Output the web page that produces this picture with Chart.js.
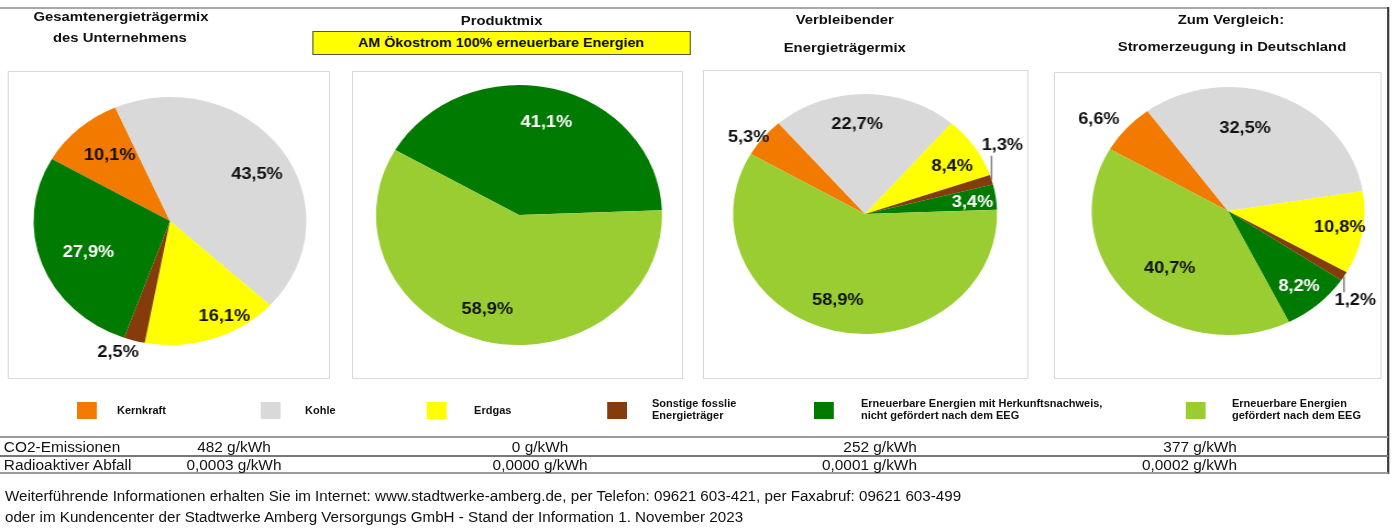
<!DOCTYPE html>
<html>
<head>
<meta charset="utf-8">
<script src="https://cdn.jsdelivr.net/npm/chart.js@4"></script>
<style>
  body { margin: 0; background: #fff; }
  #page {
    position: absolute; left: 0; top: 0; width: 1273px; height: 532px;
    transform: scaleX(1.1); transform-origin: 0 0;
    font-family: "Liberation Sans", Arial, sans-serif; color: #111;
  }
  .abs { position: absolute; }
  .title { position: absolute; font-weight: bold; font-size: 13.5px; text-align: center; width: 300px; white-space: nowrap; }
  .box { position: absolute; border: 1px solid #d9d9d9; box-sizing: border-box; }
  .sw { position: absolute; width: 18px; height: 17px; }
  .lg { position: absolute; font-weight: bold; font-size: 10px; line-height: 12px; white-space: pre; }
  .cell { position: absolute; font-size: 14px; white-space: nowrap; line-height: 16px; }
  .hline { position: absolute; left: 0; width: 1262px; height: 2px; background: #9a9a9a; }
  .foot { position: absolute; left: 4.5px; font-size: 13.8px; white-space: nowrap; }
</style>
</head>
<body>
<div id="page">
  <div class="hline" style="top:7px;background:#a8a8a8"></div>
  <div class="abs" style="left:1261px;top:7px;width:2px;height:467px;background:#3a3a3a"></div>

  <div class="title" style="left:-40px;top:9px">Gesamtenergieträgermix</div>
  <div class="title" style="left:-41px;top:30px">des Unternehmens</div>
  <div class="title" style="left:306px;top:13px">Produktmix</div>
  <div class="abs" style="left:283.5px;top:31px;width:344px;height:24px;background:#ffff00;border:1px solid #555;box-sizing:border-box;font-weight:bold;font-size:13px;text-align:center;line-height:22px">AM Ökostrom 100% erneuerbare Energien</div>
  <div class="title" style="left:618px;top:12px">Verbleibender</div>
  <div class="title" style="left:618px;top:40px">Energieträgermix</div>
  <div class="title" style="left:969px;top:12px">Zum Vergleich:</div>
  <div class="title" style="left:970px;top:39px">Stromerzeugung in Deutschland</div>

  <div id="charts"></div>
  <div id="legend"></div>

  <div class="hline" style="top:436px"></div>
  <div class="hline" style="top:455px;height:1.5px;background:#777"></div>
  <div class="hline" style="top:472px"></div>
  <div id="table"></div>

  <div class="foot" style="top:489px">Weiterführende Informationen erhalten Sie im Internet: www.stadtwerke-amberg.de, per Telefon: 09621 603-421, per Faxabruf: 09621 603-499</div>
  <div class="foot" style="top:510px">oder im Kundencenter der Stadtwerke Amberg Versorgungs GmbH - Stand der Information 1. November 2023</div>
</div>

<script>
// categories and colours (same order in every pie)
const categories = ['Kernkraft', 'Kohle', 'Erdgas', 'Sonstige fosslie\nEnergieträger',
  'Erneuerbare Energien mit Herkunftsnachweis,\nnicht gefördert nach dem EEG',
  'Erneuerbare Energien\ngefördert nach dem EEG'];
const colors = ['#F27A00', '#D9D9D9', '#FFFF00', '#843C0C', '#007A00', '#9ACD32'];

// shares in percent
const mixUnternehmen = [10.1, 43.5, 16.1, 2.5, 27.9, 0];
const mixProdukt = [0, 0, 0, 0, 41.1, 58.9];
const mixVerbleibend = [5.3, 22.7, 8.4, 1.3, 3.4, 58.9];
const mixDeutschland = [6.6, 32.5, 10.8, 1.2, 8.2, 40.7];

// table below the legend
const rowNames = ['CO2-Emissionen', 'Radioaktiver Abfall'];
const co2Values = ['482 g/kWh', '0 g/kWh', '252 g/kWh', '377 g/kWh'];
const wasteValues = ['0,0003 g/kWh', '0,0000 g/kWh', '0,0001 g/kWh', '0,0002 g/kWh'];

// layout: box, pie centre/radius, label placement (f = radius factor, da = angle shift)
const pies = [
  { data: mixUnternehmen, box: [7, 71, 293, 308], cx: 154.5, cy: 221, r: 124,
    place: [{f: .69, da: 2}, {f: .74, da: 5}, {f: .87, da: -9}, {f: 1.13, da: 4.5}, {f: .65, da: -3}, null] },
  { data: mixProdukt, box: [320, 71, 301, 308], cx: 471.8, cy: 215, r: 130,
    place: [null, null, null, null, {f: .74, da: 1}, {f: .76, da: 3}] },
  { data: mixVerbleibend, box: [639, 70, 296, 309], cx: 786.4, cy: 214, r: 120,
    place: [{f: 1.09, da: -3.5}, {f: .75, da: -4.5}, {f: .77, da: 3}, {f: 1.185, da: -12, lead: -24}, {f: .82, da: 1.5}, {f: .75, da: 2}] },
  { data: mixDeutschland, box: [958, 72, 298, 307], cx: 1116.4, cy: 211, r: 124,
    place: [{f: 1.2, da: -4}, {f: .68, da: -11.7}, {f: .83, da: -1}, {f: 1.18, da: 6, lead: 16}, {f: .8, da: .7}, {f: .63, da: -4}] }
];

function labelPlugin(place) {
  return {
    id: 'pieLabels',
    afterDatasetsDraw(chart) {
      const ctx = chart.ctx;
      const values = chart.data.datasets[0].data;
      ctx.save();
      ctx.font = 'bold 16.5px "Liberation Sans", Arial, sans-serif';
      ctx.textAlign = 'center';
      ctx.textBaseline = 'middle';
      chart.getDatasetMeta(0).data.forEach((arc, i) => {
        const p = place[i];
        if (!p || !values[i]) return;
        const mid = (arc.startAngle + arc.endAngle) / 2;
        const a = mid + p.da * Math.PI / 180;
        const R = arc.outerRadius;
        if (p.lead) {
          const ex = arc.x + Math.cos(mid) * R, ey = arc.y + Math.sin(mid) * R;
          ctx.strokeStyle = '#808080';
          ctx.lineWidth = 1.5;
          ctx.beginPath();
          ctx.moveTo(ex, ey);
          ctx.lineTo(ex, ey + p.lead);
          ctx.stroke();
        }
        ctx.fillStyle = i === 4 ? '#ffffff' : '#111111';
        ctx.fillText(values[i].toFixed(1).replace('.', ',') + '%',
          arc.x + Math.cos(a) * R * p.f, arc.y + Math.sin(a) * R * p.f);
      });
      ctx.restore();
    }
  };
}

const chartsDiv = document.getElementById('charts');
pies.forEach(p => {
  const [bx, by, bw, bh] = p.box;
  const box = document.createElement('div');
  box.className = 'box';
  box.style.cssText = `left:${bx}px;top:${by}px;width:${bw}px;height:${bh}px`;
  chartsDiv.appendChild(box);
  const cv = document.createElement('canvas');
  cv.width = bw; cv.height = bh;
  cv.style.cssText = `position:absolute;left:${bx}px;top:${by}px`;
  chartsDiv.appendChild(cv);
  const lx = p.cx - bx, ly = p.cy - by;
  new Chart(cv, {
    type: 'pie',
    data: {
      labels: categories,
      datasets: [{ data: p.data, backgroundColor: colors, borderWidth: 0, hoverOffset: 0 }]
    },
    options: {
      responsive: false,
      animation: false,
      events: [],
      rotation: -60,
      layout: { padding: { left: lx - p.r, top: ly - p.r, right: bw - lx - p.r, bottom: bh - ly - p.r } },
      plugins: { legend: { display: false }, tooltip: { enabled: false } }
    },
    plugins: [labelPlugin(p.place)]
  });
});

// legend
const legendX = [[70, 106.4], [237.3, 277.3], [388.2, 431], [551.8, 592.7], [740, 782.7], [1078, 1120]];
const legendDiv = document.getElementById('legend');
categories.forEach((c, i) => {
  const sw = document.createElement('div');
  sw.className = 'sw';
  sw.style.cssText = `left:${legendX[i][0]}px;top:402px;background:${colors[i]}`;
  legendDiv.appendChild(sw);
  const t = document.createElement('div');
  t.className = 'lg';
  t.textContent = c;
  const lines = c.split('\n').length;
  t.style.cssText = `left:${legendX[i][1]}px;top:${lines > 1 ? 398 : 405}px`;
  legendDiv.appendChild(t);
});

// table
const tableDiv = document.getElementById('table');
const colPos = [[212.7, 'c'], [491, 'c'], [833.6, 'r'], [1124.5, 'r']];
[co2Values, wasteValues].forEach((row, r) => {
  const top = 439 + r * 17.5;
  const name = document.createElement('div');
  name.className = 'cell';
  name.style.cssText = `left:3.5px;top:${top}px`;
  name.textContent = rowNames[r];
  tableDiv.appendChild(name);
  row.forEach((v, k) => {
    const d = document.createElement('div');
    d.className = 'cell';
    const [x, al] = colPos[k];
    d.style.cssText = al === 'c'
      ? `left:${x - 100}px;width:200px;text-align:center;top:${top}px`
      : `left:${x - 200}px;width:200px;text-align:right;top:${top}px`;
    d.textContent = v;
    tableDiv.appendChild(d);
  });
});
</script>
</body>
</html>
